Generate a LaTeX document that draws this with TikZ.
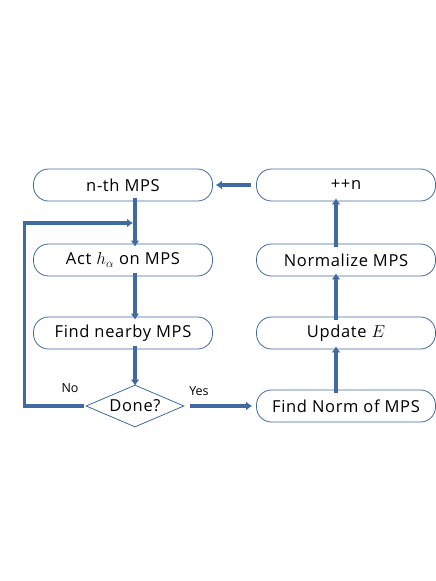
\documentclass[tikz,border=0pt]{standalone}
\usepackage{fontspec}
\setmainfont{Open Sans}
\usepackage{amsmath}
\usetikzlibrary{shapes.geometric,arrows.meta}
\definecolor{flow}{RGB}{65, 106, 160}
\newfontfamily\boxfont[LetterSpace=4]{Open Sans}

\begin{document}
\begin{tikzpicture}[x=1pt,y=-1pt,
  stepbox/.style={draw=flow, thick, rounded corners=15pt, minimum width=179pt,
    minimum height=32pt, inner sep=0pt, font=\boxfont\fontsize{16.5}{19}\selectfont},
  choice/.style={draw=flow, thick, diamond, aspect=2.4, minimum width=98pt,
    minimum height=42pt, inner sep=0pt, font=\boxfont\fontsize{16.5}{19}\selectfont},
  flowline/.style={draw=flow, line width=3.2pt, -{Latex[length=6pt,width=9pt]}},
  tag/.style={font=\fontsize{12.5}{14}\selectfont}]
\useasboundingbox (0,0) rectangle (436,581);

% left column
\node [stepbox] (nth) at (123,185) {n-th MPS};
\node [stepbox] (act) at (123,260) {Act $h_\alpha$ on MPS};
\node [stepbox] (near) at (123,333) {Find nearby MPS};
\node [choice] (done) at (135,406) {Done?};

% right column
\node [stepbox] (inc) at (346,185) {++n};
\node [stepbox] (norm) at (346,260) {Normalize MPS};
\node [stepbox] (upd) at (346,333) {Update $E$};
\node [stepbox] (fnorm) at (346,406) {Find Norm of MPS};

\coordinate (loop) at (133,223);

% connectors
\draw [flowline] ([yshift=3pt]nth.south -| done.north) -- ([yshift=-3pt]act.north -| done.north);
\draw [flowline] ([yshift=3pt]act.south -| done.north) -- ([yshift=-3pt]near.north -| done.north);
\draw [flowline] ([yshift=3pt]near.south -| done.north) -- ([yshift=-1pt]done.north);
\draw [flowline] ([xshift=-2pt]done.west) -- ++(-59,0) |- (loop);
\draw [flowline] ([xshift=6pt]done.east) -- ([xshift=-4pt]fnorm.west);
\draw [flowline] ([xshift=-10pt,yshift=-3pt]fnorm.north) -- ([xshift=-10pt,yshift=3pt]upd.south);
\draw [flowline] ([xshift=-10pt,yshift=-3pt]upd.north) -- ([xshift=-10pt,yshift=3pt]norm.south);
\draw [flowline] ([xshift=-10pt,yshift=-3pt]norm.north) -- ([xshift=-10pt,yshift=3pt]inc.south);
\draw [flowline] ([xshift=-5pt]inc.west) -- ([xshift=3pt]nth.east);

\node [tag] (no) at (70,388) {No};
\node [tag] (yes) at (199,391) {Yes};
\end{tikzpicture}
\end{document}
